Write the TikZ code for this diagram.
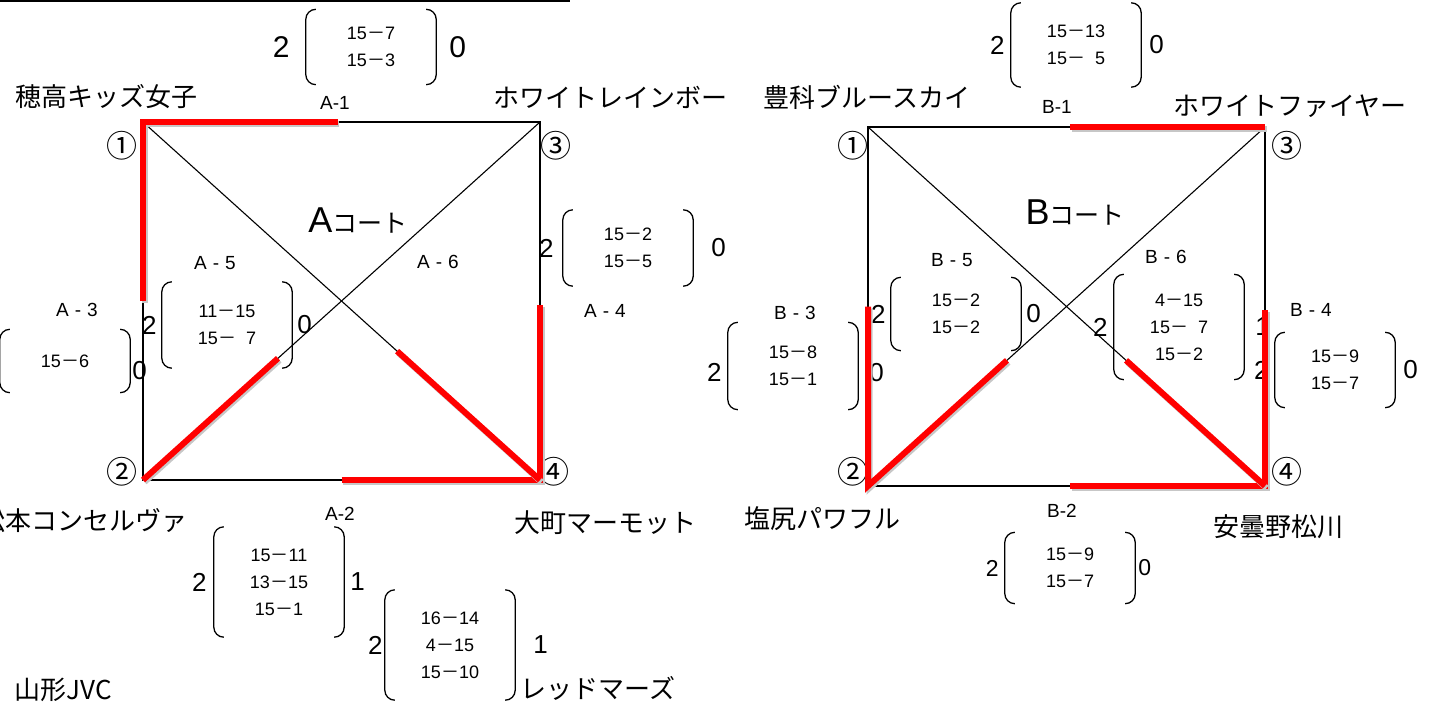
\documentclass[tikz,border=0pt]{standalone}
\usepackage{fontspec}
\setmainfont{Liberation Sans}
\newfontfamily\jp{Noto Sans CJK JP}
\usetikzlibrary{calc, positioning}
\tikzstyle{team}=[font=\jp\fontsize{26pt}{30pt}\selectfont, inner sep=0pt]
\tikzstyle{tag}=[font=\fontsize{19pt}{22pt}\selectfont, inner sep=0pt]
\tikzstyle{scores}=[align=center, inner sep=0pt, minimum width=130pt, font=\fontsize{18pt}{27pt}\selectfont]
\tikzstyle{sets}=[font=\fontsize{26pt}{30pt}\selectfont, inner sep=0pt]
\tikzstyle{num}=[font=\jp\fontsize{31pt}{32pt}\selectfont, inner sep=0pt]
\tikzstyle{paren}=[line width=1.3pt, rounded corners=10pt]
\tikzstyle{side}=[line width=1.5pt]
\tikzstyle{diag}=[line width=1.1pt]
\tikzstyle{win}=[draw=red, line width=6pt, preaction={draw=black!22, line width=6pt, transform canvas={shift={(1.5pt,-2pt)}}}]

\newcommand{\sdash}{{\jp －}}
\newcommand{\tsp}{\hspace{6pt}}
\newcommand{\scorebrackets}[1]{%
  \draw[paren] ([xshift=10pt]#1.north west) -- (#1.north west) -- (#1.south west) -- ([xshift=10pt]#1.south west);
  \draw[paren] ([xshift=-10pt]#1.north east) -- (#1.north east) -- (#1.south east) -- ([xshift=-10pt]#1.south east);}

\begin{document}
\begin{tikzpicture}[x=1pt, y=-1pt]
\useasboundingbox (0,0) rectangle (1439,703);

\draw[line width=1.2pt] (0,1) -- (570,1);

% court corners
\coordinate (a1) at (143,122);
\coordinate (a3) at (540,122);
\coordinate (a2) at (143,480);
\coordinate (a4) at (540,480);
\coordinate (b1) at (868,127);
\coordinate (b3) at (1265,127);
\coordinate (b2) at (868,486);
\coordinate (b4) at (1265,486);

% courts
\draw[side] (a1) -- (a3) -- (a4) -- (a2) -- cycle;
\draw[diag] (a1) -- (a4);
\draw[diag] (a3) -- (a2);
\draw[side] (b1) -- (b3) -- (b4) -- (b2) -- cycle;
\draw[diag] (b1) -- (b4);
\draw[diag] (b3) -- (b2);

% corner numbers
\node[num] (na1) at ($(a1)+(-21,24)$) {①};
\node[num] (na3) at ($(a3)+(16,24)$) {③};
\node[num] (na2) at ($(a2)+(-21,-8)$) {②};
\node[num] (na4) at ($(a4)+(14,-8)$) {④};
\node[num] (nb1) at ($(b1)+(-15,19)$) {①};
\node[num] (nb3) at ($(b3)+(22,19)$) {③};
\node[num] (nb2) at ($(b2)+(-15,-14)$) {②};
\node[num] (nb4) at ($(b4)+(22,-14)$) {④};

% court titles
\node (ca) at (358,220) {{\fontsize{36pt}{38pt}\selectfont A}{\jp\fontsize{25pt}{28pt}\selectfont コート}};
\node (cb) at (1075,212) {{\fontsize{36pt}{38pt}\selectfont B}{\jp\fontsize{25pt}{28pt}\selectfont コート}};

% teams
\node[team] (hotaka) at (106,97) {穂高キッズ女子};
\node[team] (rainbow) at (610,97) {ホワイトレインボー};
\node[team, anchor=east] (concerva) at (188,521) {松本コンセルヴァ};
\node[team] (omachi) at (605,523) {大町マーモット};
\node[team] (yamagata) at (63,690) {山形JVC};
\node[team] (redmars) at (598,688) {レッドマーズ};
\node[team] (toyoshina) at (867,97) {豊科ブルースカイ};
\node[team] (fire) at (1290,106) {ホワイトファイヤー};
\node[team] (shiojiri) at (822,519) {塩尻パワフル};
\node[team] (azumino) at (1278,527) {安曇野松川};

% match tags
\node[tag] (ta1) at (335,103) {A-1};
\node[tag] (ta2) at (340,514) {A-2};
\node[tag] (ta3) at (77,310) {A\tsp-\tsp3};
\node[tag] (ta4) at (605,311) {A\tsp-\tsp4};
\node[tag] (ta5) at (215,263) {A\tsp-\tsp5};
\node[tag] (ta6) at (438,262) {A\tsp-\tsp6};
\node[tag] (tb1) at (1057,107) {B-1};
\node[tag] (tb2) at (1062,511) {B-2};
\node[tag] (tb3) at (795,313) {B\tsp-\tsp3};
\node[tag] (tb4) at (1311,310) {B\tsp-\tsp4};
\node[tag] (tb5) at (952,260) {B\tsp-\tsp5};
\node[tag] (tb6) at (1166,257) {B\tsp-\tsp6};

% scores, court A
\node[scores, minimum height=75pt] (sa1) at (371,47) {15\sdash7\\15\sdash3};
\node[sets, font=\fontsize{30pt}{32pt}\selectfont, left=16pt of sa1] (sa1l) {2};
\node[sets, font=\fontsize{30pt}{32pt}\selectfont, right=13pt of sa1] (sa1r) {0};
\scorebrackets{sa1}

\node[scores, minimum height=86pt] (sa5) at (227,325) {11\sdash15\\15\sdash\hphantom{1}7};
\node[sets, left=5pt of sa5] (sa5l) {2};
\node[sets, right=5pt of sa5] (sa5r) {0};
\scorebrackets{sa5}

\node[scores, minimum height=63pt] (sa3) at (65,361) {15\sdash6};
\node[sets, right=2pt of sa3, yshift=-10pt] (sa3r) {0};
\scorebrackets{sa3}

\node[scores, minimum height=76pt] (sa4) at (628,248) {15\sdash2\\15\sdash5};
\node[sets, left=9pt of sa4] (sa4l) {2};
\node[sets, right=18pt of sa4] (sa4r) {0};
\scorebrackets{sa4}

\node[scores, minimum height=110pt] (sa2) at (279,582) {15\sdash11\\13\sdash15\\15\sdash1};
\node[sets, left=7pt of sa2] (sa2l) {2};
\node[sets, right=6pt of sa2] (sa2r) {1};
\scorebrackets{sa2}

\node[scores, minimum height=110pt] (sx) at (450,645) {16\sdash14\\4\sdash15\\15\sdash10};
\node[sets, left=2pt of sx] (sxl) {2};
\node[sets, right=18pt of sx] (sxr) {1};
\scorebrackets{sx}

% scores, court B
\node[scores, minimum height=84pt] (sb1) at (1076,45) {15\sdash13\\15\sdash\hphantom{1}5};
\node[sets, left=6pt of sb1] (sb1l) {2};
\node[sets, right=8pt of sb1] (sb1r) {0};
\scorebrackets{sb1}

\node[scores, minimum height=87pt] (sb3) at (793,366) {15\sdash8\\15\sdash1};
\node[sets, left=6pt of sb3, yshift=-6pt] (sb3l) {2};
\node[sets, right=11pt of sb3, yshift=-7pt] (sb3r) {0};
\scorebrackets{sb3}

\node[scores, minimum height=73pt] (sb5) at (956,314) {15\sdash2\\15\sdash2};
\node[sets, left=5pt of sb5] (sb5l) {2};
\node[sets, right=5pt of sb5] (sb5r) {0};
\scorebrackets{sb5}

\node[scores, minimum height=105pt] (sb6) at (1179,327) {4\sdash15\\15\sdash\hphantom{1}7\\15\sdash2};
\node[sets, left=6pt of sb6] (sb6l) {2};
\node[sets, right=11pt of sb6] (sb6r) {1};
\scorebrackets{sb6}

\node[scores, minimum height=75pt, minimum width=120pt] (sb4) at (1335,370) {15\sdash9\\15\sdash7};
\node[sets, left=6pt of sb4] (sb4l) {2};
\node[sets, right=8pt of sb4] (sb4r) {0};
\scorebrackets{sb4}

\node[scores, minimum height=71pt] (sb2) at (1070,568) {15\sdash9\\15\sdash7};
\node[sets, font=\fontsize{23pt}{24pt}\selectfont, left=6pt of sb2] (sb2l) {2};
\node[sets, font=\fontsize{23pt}{24pt}\selectfont, right=3pt of sb2] (sb2r) {0};
\scorebrackets{sb2}

% winners, court A
\draw[win] ($(a1)!0.5!(a2)$) -- (a1) -- ($(a1)!0.49!(a3)$);
\draw[win] (a2) -- ($(a2)!0.34!(a3)$);
\draw[win] ($(a4)!0.5!(a2)$) -- (a4) -- ($(a4)!0.49!(a3)$);
\draw[win] (a4) -- ($(a4)!0.36!(a1)$);

% winners, court B
\draw[win] ($(b3)!0.49!(b1)$) -- (b3);
\draw[win] ($(b2)!0.5!(b1)$) -- (b2) -- ($(b2)!0.35!(b3)$);
\draw[win] ($(b4)!0.49!(b2)$) -- (b4) -- ($(b4)!0.49!(b3)$);
\draw[win] (b4) -- ($(b4)!0.35!(b1)$);

\end{tikzpicture}
\end{document}
